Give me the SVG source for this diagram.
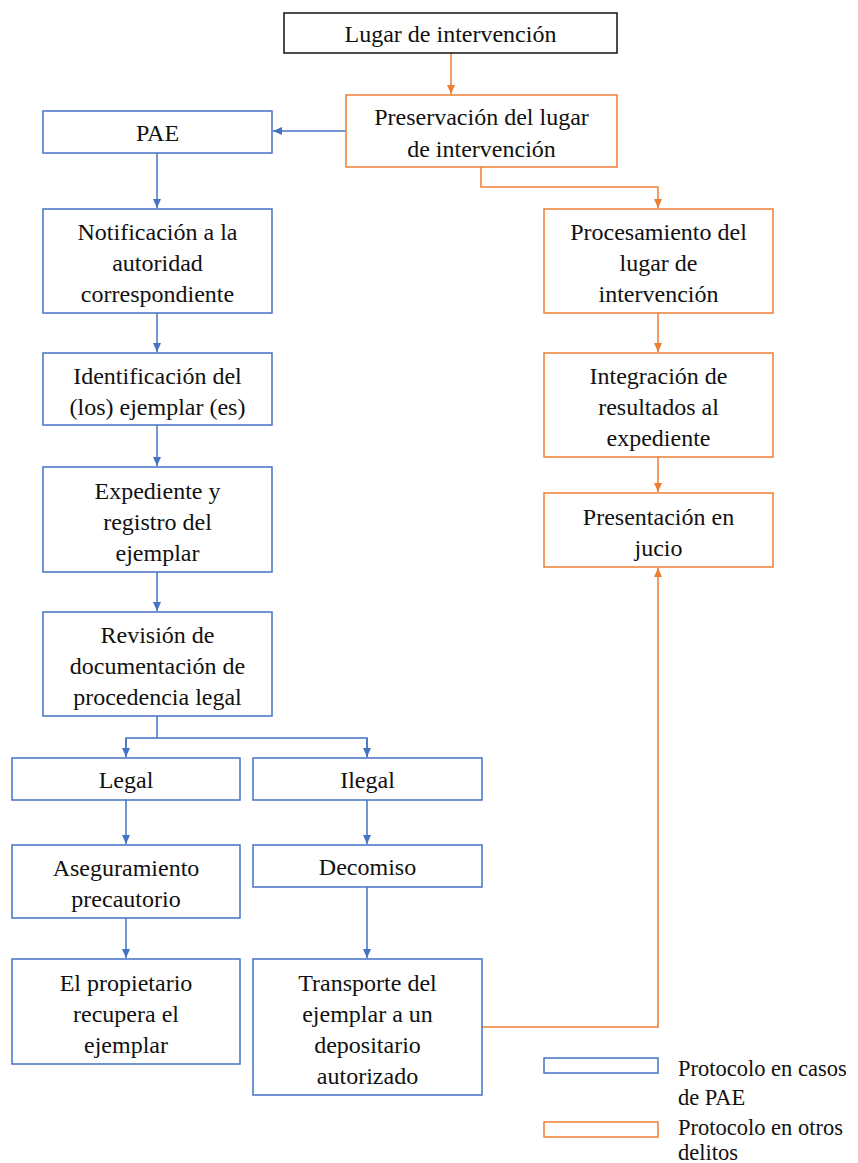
<svg xmlns="http://www.w3.org/2000/svg" width="858" height="1163" viewBox="0 0 858 1163" font-family="'Liberation Serif', 'Times New Roman', 'DejaVu Serif', serif">
<defs>
<style>
text{font-family:"Liberation Serif","Times New Roman","DejaVu Serif",serif;font-size:24px;fill:#111;text-anchor:middle}
.b{fill:#fff;stroke:#4472C4;stroke-width:1.5}
.o{fill:#fff;stroke:#ED7D31;stroke-width:1.5}
.k{fill:#fff;stroke:#111;stroke-width:1.5}
.cb{fill:none;stroke:#4472C4;stroke-width:1.5}
.co{fill:none;stroke:#ED7D31;stroke-width:1.5}
.lg{text-anchor:start;font-size:22.5px}
</style>
<marker id="ab" markerWidth="10" markerHeight="10" refX="9" refY="5" orient="auto" markerUnits="userSpaceOnUse"><path d="M0,1 L9,5 L0,9 Z" fill="#4472C4"/></marker>
<marker id="ao" markerWidth="10" markerHeight="10" refX="9" refY="5" orient="auto" markerUnits="userSpaceOnUse"><path d="M0,1 L9,5 L0,9 Z" fill="#ED7D31"/></marker>
</defs>
<rect width="858" height="1163" fill="#fff"/>
<g id="connectors">
<path class="co" d="M451,53 V94" marker-end="url(#ao)"/>
<path class="cb" d="M346,131 H273" marker-end="url(#ab)"/>
<path class="cb" d="M157,153 V208" marker-end="url(#ab)"/>
<path class="cb" d="M157,313 V352" marker-end="url(#ab)"/>
<path class="cb" d="M157,425 V466" marker-end="url(#ab)"/>
<path class="cb" d="M157,572 V611" marker-end="url(#ab)"/>
<path class="cb" d="M157,716 V738"/>
<path class="cb" d="M126,757 V738 H367 V757" />
<path class="cb" d="M126,738 V757" marker-end="url(#ab)"/>
<path class="cb" d="M367,738 V757" marker-end="url(#ab)"/>
<path class="cb" d="M126,800 V844" marker-end="url(#ab)"/>
<path class="cb" d="M126,918 V958" marker-end="url(#ab)"/>
<path class="cb" d="M367,800 V844" marker-end="url(#ab)"/>
<path class="cb" d="M367,887 V958" marker-end="url(#ab)"/>
<path class="co" d="M481,167 V187 H658 V208" marker-end="url(#ao)"/>
<path class="co" d="M658,313 V352" marker-end="url(#ao)"/>
<path class="co" d="M658,457 V492" marker-end="url(#ao)"/>
<path class="co" d="M482,1027 H658 V568" marker-end="url(#ao)"/>
</g>
<g id="lugar"><rect class="k" x="284" y="13" width="333" height="40"/><text x="450.5" y="42">Lugar de intervención</text></g>
<g id="preservacion"><rect class="o" x="346" y="95" width="271" height="72"/><text x="481.5" y="125">Preservación del lugar</text><text x="481.5" y="157">de intervención</text></g>
<g id="pae"><rect class="b" x="43" y="111" width="229" height="42"/><text x="157.5" y="141">PAE</text></g>
<g id="notificacion"><rect class="b" x="43" y="209" width="229" height="104"/><text x="157.5" y="240">Notificación a la</text><text x="157.5" y="271">autoridad</text><text x="157.5" y="302">correspondiente</text></g>
<g id="identificacion"><rect class="b" x="43" y="353" width="229" height="72"/><text x="157.5" y="383.5">Identificación del</text><text x="157.5" y="414.5">(los) ejemplar (es)</text></g>
<g id="expediente"><rect class="b" x="43" y="467" width="229" height="105"/><text x="157.5" y="498.5">Expediente y</text><text x="157.5" y="529.5">registro del</text><text x="157.5" y="560.5">ejemplar</text></g>
<g id="revision"><rect class="b" x="43" y="612" width="229" height="104"/><text x="157.5" y="643">Revisión de</text><text x="157.5" y="674">documentación de</text><text x="157.5" y="705">procedencia legal</text></g>
<g id="legal"><rect class="b" x="12" y="758" width="228" height="42"/><text x="126" y="788">Legal</text></g>
<g id="ilegal"><rect class="b" x="253" y="758" width="229" height="42"/><text x="367.5" y="788">Ilegal</text></g>
<g id="aseguramiento"><rect class="b" x="12" y="845" width="228" height="73"/><text x="126" y="876">Aseguramiento</text><text x="126" y="907">precautorio</text></g>
<g id="propietario"><rect class="b" x="12" y="959" width="228" height="105"/><text x="126" y="990.5">El propietario</text><text x="126" y="1021.5">recupera el</text><text x="126" y="1052.5">ejemplar</text></g>
<g id="decomiso"><rect class="b" x="253" y="845" width="229" height="42"/><text x="367.5" y="875">Decomiso</text></g>
<g id="transporte"><rect class="b" x="253" y="959" width="229" height="136"/><text x="367.5" y="990.5">Transporte del</text><text x="367.5" y="1021.5">ejemplar a un</text><text x="367.5" y="1052.5">depositario</text><text x="367.5" y="1083.5">autorizado</text></g>
<g id="procesamiento"><rect class="o" x="544" y="209" width="229" height="104"/><text x="658.5" y="240">Procesamiento del</text><text x="658.5" y="271">lugar de</text><text x="658.5" y="302">intervención</text></g>
<g id="integracion"><rect class="o" x="544" y="353" width="229" height="104"/><text x="658.5" y="384">Integración de</text><text x="658.5" y="415">resultados al</text><text x="658.5" y="446">expediente</text></g>
<g id="presentacion"><rect class="o" x="544" y="493" width="229" height="74"/><text x="658.5" y="524.5">Presentación en</text><text x="658.5" y="555.5">jucio</text></g>
<g id="legend">
<rect class="b" x="544" y="1058" width="114" height="15"/>
<text class="lg" x="678" y="1076">Protocolo en casos</text><text class="lg" x="678" y="1105">de PAE</text>
<rect class="o" x="544" y="1122" width="114" height="15"/>
<text class="lg" x="678" y="1135">Protocolo en otros</text><text class="lg" x="678" y="1160">delitos</text>
</g>
</svg>
